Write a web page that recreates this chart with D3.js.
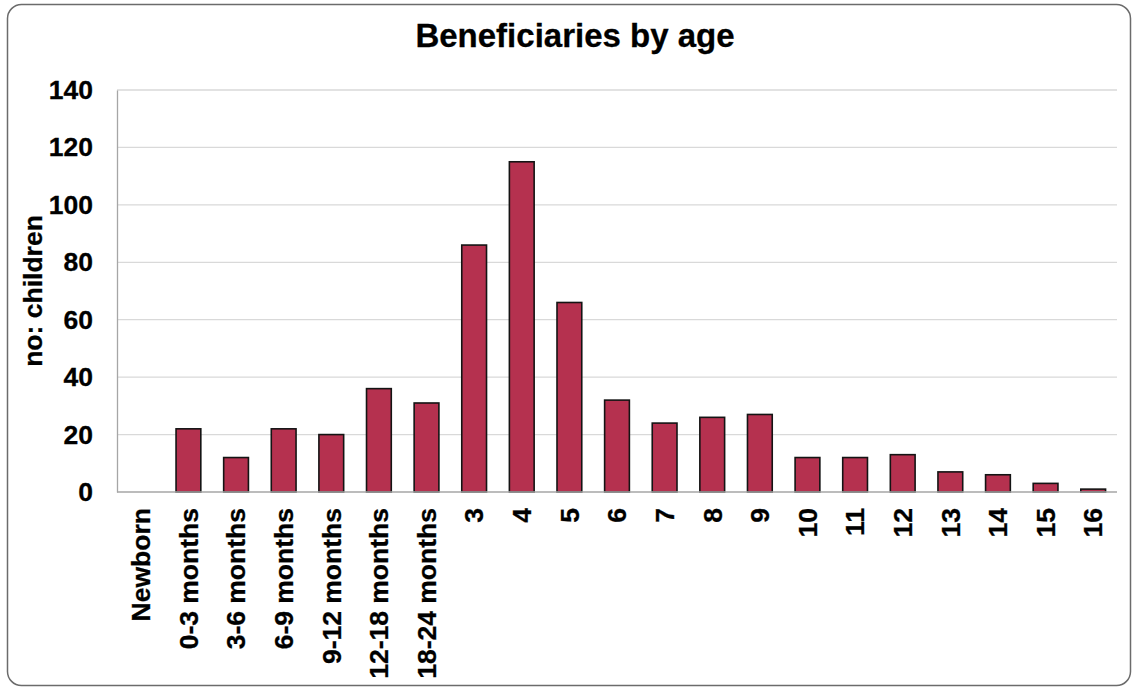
<!DOCTYPE html>
<html>
<head>
<meta charset="utf-8">
<script src="https://cdn.jsdelivr.net/npm/d3@7"></script>
<style>
  html, body { margin: 0; padding: 0; background: #fff; }
  svg { display: block; font-family: "Liberation Sans", Arial, sans-serif; }
</style>
</head>
<body>
<svg id="chart" width="1136" height="688"></svg>
<script>
const categories = ["Newborn", "0-3 months", "3-6 months", "6-9 months", "9-12 months", "12-18 months", "18-24 months",
  "3", "4", "5", "6", "7", "8", "9", "10", "11", "12", "13", "14", "15", "16"];
const children = [0, 22, 12, 22, 20, 36, 31, 86, 115, 66, 32, 24, 26, 27, 12, 12, 13, 7, 6, 3, 1];
const yTicks = [0, 20, 40, 60, 80, 100, 120, 140];
const titleText = "Beneficiaries by age";
const yLabel = "no: children";

const svg = d3.select("#chart");
const margin = { left: 117, right: 1117, top: 90, bottom: 492 };
const labelSize = 26.5;

// frame
svg.append("rect")
  .attr("x", 7.5).attr("y", 4.5)
  .attr("width", 1123).attr("height", 681)
  .attr("rx", 14).attr("ry", 14)
  .attr("fill", "#fff")
  .attr("stroke", "#6b6b6b")
  .attr("stroke-width", 1.5);

const x = d3.scaleBand().domain(categories).range([margin.left, margin.right]).paddingInner(0.48).paddingOuter(0.24);
const y = d3.scaleLinear().domain([0, 140]).range([margin.bottom, margin.top]);

// gridlines
svg.append("g").selectAll("line").data(yTicks.filter(d => d > 0)).join("line")
  .attr("x1", margin.left).attr("x2", margin.right)
  .attr("y1", d => y(d)).attr("y2", d => y(d))
  .attr("stroke", "#d9d9d9").attr("stroke-width", 1.3);

// y axis
const yAxis = svg.append("g")
  .attr("transform", `translate(${margin.left},0)`)
  .call(d3.axisLeft(y).tickValues(yTicks).tickSize(0).tickPadding(24));
yAxis.select(".domain").attr("stroke", "#a6a6a6").attr("stroke-width", 1.3);
yAxis.selectAll("text")
  .attr("font-size", labelSize).attr("font-weight", "bold").attr("fill", "#000")
  .attr("stroke", "#000").attr("stroke-width", 0.3)
  .attr("font-family", "Liberation Sans, Arial, sans-serif");

// bars
svg.append("g").selectAll("rect").data(categories).join("rect")
  .attr("x", d => x(d))
  .attr("width", x.bandwidth())
  .attr("y", (d, i) => y(children[i]))
  .attr("height", (d, i) => y(0) - y(children[i]))
  .attr("fill", "#b5314f")
  .attr("stroke", (d, i) => children[i] > 0 ? "#141414" : "none")
  .attr("stroke-width", 1.6);

// x axis
const xAxis = svg.append("g")
  .attr("transform", `translate(0,${margin.bottom})`)
  .call(d3.axisBottom(x).tickSize(0).tickPadding(16));
xAxis.select(".domain").attr("stroke", "#a6a6a6").attr("stroke-width", 1.3).attr("d", `M${margin.left},0H${margin.right}`);
xAxis.selectAll("text")
  .attr("font-size", labelSize).attr("font-weight", "bold").attr("fill", "#000")
  .attr("stroke", "#000").attr("stroke-width", 0.3)
  .attr("font-family", "Liberation Sans, Arial, sans-serif")
  .attr("text-anchor", "end")
  .attr("transform", "rotate(-90)")
  .attr("x", -16).attr("y", 0).attr("dy", "0.35em");

// title
svg.append("text")
  .attr("x", 575).attr("y", 47)
  .attr("text-anchor", "middle")
  .attr("font-size", 33).attr("font-weight", "bold")
  .attr("stroke", "#000").attr("stroke-width", 0.3)
  .text(titleText);

// y label
svg.append("text")
  .attr("transform", `translate(42,${(margin.top + margin.bottom) / 2}) rotate(-90)`)
  .attr("text-anchor", "middle")
  .attr("font-size", labelSize).attr("font-weight", "bold")
  .attr("stroke", "#000").attr("stroke-width", 0.3)
  .text(yLabel);
</script>
</body>
</html>
